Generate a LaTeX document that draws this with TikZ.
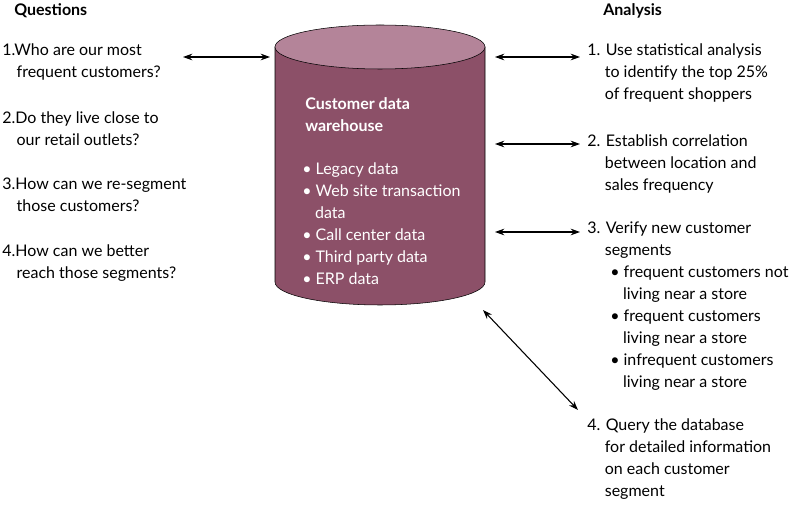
\documentclass[tikz,border=0pt]{standalone}
\usepackage{fontspec}
\setmainfont{Lato}
\usetikzlibrary{shapes.geometric,arrows.meta}
\definecolor{wbody}{HTML}{8C5068}
\definecolor{wtop}{HTML}{B48499}
\begin{document}
\begin{tikzpicture}[
        x=0.75pt, y=-0.75pt,
        txt/.style={anchor=north west, align=left, inner sep=0pt, font=\fontsize{12}{16.5}\selectfont},
        head/.style={txt, font=\fontsize{12}{16.5}\selectfont\bfseries},
        dbl/.style={{Stealth[length=7pt,width=5pt]}-{Stealth[length=7pt,width=5pt]}, thick},
    ]
    \useasboundingbox (0,0) rectangle (800,509);
    % cylinder
    \fill[wbody, draw=black] (275,47) -- (275,282) arc[start angle=180, end angle=0, x radius=105, y radius=23] -- (485,47) -- cycle;
    \draw[fill=wtop] (380,47) ellipse[x radius=105, y radius=22];
    \node[head, white] (dw) at (305,97) {Customer data\\warehouse};
    \node[txt, white] (dwlist) at (302,162) {\textbullet\ Legacy data\\\textbullet\ Web site transaction\\\hspace{0.8em}data\\\textbullet\ Call center data\\\textbullet\ Third party data\\\textbullet\ ERP data};
    % questions
    \node[head] (q) at (14,3) {Questions};
    \node[txt] (q1) at (2,43) {1.Who are our most\\\hspace{0.9em}frequent customers?};
    \node[txt] (q2) at (2,111) {2.Do they live close to\\\hspace{0.9em}our retail outlets?};
    \node[txt] (q3) at (2,178) {3.How can we re-segment\\\hspace{0.9em}those customers?};
    \node[txt] (q4) at (2,244) {4.How can we better\\\hspace{0.9em}reach those segments?};
    % analysis
    \node[head] (a) at (603,3) {Analysis};
    \node[txt] (a1) at (587,43) {1. Use statistical analysis\\\hspace{1.1em}to identify the top 25\%\\\hspace{1.1em}of frequent shoppers};
    \node[txt] (a2) at (587,134) {2. Establish correlation\\\hspace{1.1em}between location and\\\hspace{1.1em}sales frequency};
    \node[txt] (a3) at (587,222) {3. Verify new customer\\\hspace{1.1em}segments};
    \node[txt] (a3s) at (610,266) {\textbullet\ frequent customers not\\\hspace{0.8em}living near a store\\\textbullet\ frequent customers\\\hspace{0.8em}living near a store\\\textbullet\ infrequent customers\\\hspace{0.8em}living near a store};
    \node[txt] (a4) at (587,418) {4. Query the database\\\hspace{1.1em}for detailed information\\\hspace{1.1em}on each customer\\\hspace{1.1em}segment};
    % connectors
    \coordinate (c0) at (270,57);
    \coordinate (c1) at (495,57);
    \coordinate (c2) at (495,144);
    \coordinate (c3) at (495,232);
    \coordinate (c4) at (483,310);
    \coordinate (q1e) at (183,57);
    \coordinate (a1e) at (580,57);
    \coordinate (a2e) at (580,144);
    \coordinate (a3e) at (580,232);
    \coordinate (a4e) at (578,410);
    \draw[dbl] (q1e) -- (c0);
    \draw[dbl] (c1) -- (a1e);
    \draw[dbl] (c2) -- (a2e);
    \draw[dbl] (c3) -- (a3e);
    \draw[dbl] (c4) -- (a4e);
\end{tikzpicture}
\end{document}
